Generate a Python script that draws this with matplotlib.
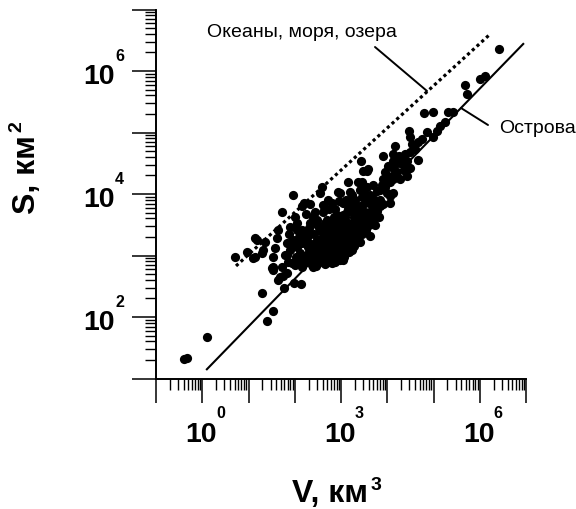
import numpy as np
import matplotlib
matplotlib.use('Agg')
import matplotlib.pyplot as plt
from matplotlib.ticker import LogLocator, NullFormatter

plt.rcParams['font.family'] = ['Liberation Sans', 'DejaVu Sans']

# ---------------- data (log10 values) ----------------
log_v = [-0.40, -0.34, 0.10, 1.29, 1.53, 1.40, 1.53, 1.64, 1.75, 1.83,
         1.77, 1.98, 2.14, 0.71, 0.97, 1.14, 1.18, 1.36, 1.31, 1.51,
         1.68, 1.64, 1.72, 1.90, 1.96, 1.57, 1.83, 2.05, 1.83, 1.72,
         2.05, 2.16, 2.33, 2.55, 1.14, 1.10, 1.29, 1.53, 1.53, 1.62,
         2.05, 1.90, 2.11, 2.37, 2.61, 2.72, 2.91, 2.37, 2.26, 2.05,
         2.33, 2.55, 2.83, 3.13, 3.35, 3.04, 2.48, 2.70, 2.26, 2.59,
         3.15, 3.45, 3.56, 2.98, 3.24, 3.41, 2.20, 2.44, 2.81, 2.91,
         2.70, 2.44, 2.16, 3.15, 3.41, 3.56, 3.26, 3.04, 2.81, 2.55,
         2.29, 1.96, 1.79, 2.33, 2.70, 2.98, 3.24, 3.41, 3.63, 3.74,
         3.67, 2.05, 2.39, 2.55, 2.91, 2.59, 2.29,
         6.42, 6.11, 6.01, 5.68, 5.72, 4.79, 4.99, 5.31, 5.42, 5.25,
         5.14, 5.08, 4.86, 4.99, 4.75, 4.66, 4.47, 4.49, 4.54, 4.17,
         4.60, 4.49, 4.38, 4.32, 3.91, 4.12, 4.12, 4.32, 4.43, 4.38,
         4.49, 4.66, 4.12, 4.21, 4.10, 4.43, 3.43, 3.48, 3.58, 4.12,
         4.06, 4.28, 4.43, 3.37, 2.94, 3.19, 3.56, 3.63, 3.84, 3.91,
         3.99, 3.99, 4.12, 3.84, 3.04, 3.30, 3.52, 3.69, 3.91, 2.87,
         3.13, 3.41, 3.58, 2.91, 3.15, 3.41, 2.83, 3.09, 3.35, 2.98,
         3.26, 2.87, 3.09, 2.83, 2.72, 2.48, 2.65, 3.95, 4.06, 3.74,
         3.67, 3.84, 3.52, 3.37, 3.19, 3.04, 3.26, 3.19, 3.58, 4.06,
         2.00, 2.20, 2.50, 2.80, 3.00,
         1.85, 1.95, 2.02, 2.12, 2.18, 2.25, 2.30, 2.42, 2.47, 2.52,
         2.58, 2.63, 2.68, 2.75, 2.78, 2.85, 2.93, 2.97, 3.02, 3.07,
         3.12, 3.17, 3.20, 3.28, 3.32, 3.38, 3.45, 3.50, 3.55, 3.48,
         3.62, 3.70, 3.78, 3.82, 2.15, 2.22, 2.35, 2.42, 2.50, 2.62,
         2.66, 2.75, 2.79, 2.88, 2.95, 3.00, 3.07, 3.10, 3.22, 3.28,
         3.33, 3.45, 3.50, 3.22, 3.10, 2.95, 2.85, 2.60, 2.40, 2.30,
         2.10, 1.95, 1.88, 2.00, 2.25, 2.62, 2.75, 3.70, 3.78, 3.88,
         3.95, 4.02, 4.20, 4.25, 2.15, 2.45, 2.65, 2.88, 3.05,
         2.28, 2.40, 2.55, 2.68, 2.82, 2.95, 3.05, 3.15, 2.50, 2.72,
         2.90, 3.08, 3.30, 3.42, 3.60, 3.25]
log_s = [1.31, 1.33, 1.67, 2.39, 2.10, 1.93, 2.77, 2.60, 2.67, 2.72,
         2.47, 2.55, 2.54, 2.98, 3.06, 2.98, 3.26, 3.22, 3.09, 2.80,
         2.65, 3.42, 3.71, 3.47, 3.98, 3.13, 3.21, 3.14, 3.01, 2.81,
         3.53, 3.80, 3.83, 4.02, 3.29, 2.96, 3.04, 2.98, 2.82, 3.29,
         3.17, 3.09, 3.04, 2.96, 2.93, 2.90, 2.98, 2.85, 3.37, 3.42,
         3.53, 3.42, 3.37, 3.37, 3.26, 3.21, 3.26, 3.21, 3.21, 4.11,
         4.19, 4.19, 4.37, 4.02, 3.99, 4.07, 3.86, 3.71, 3.86, 3.66,
         3.58, 3.53, 3.42, 3.75, 3.80, 3.91, 3.53, 3.31, 3.14, 3.09,
         3.14, 3.26, 3.01, 2.93, 2.96, 3.01, 3.09, 3.22, 3.31, 3.50,
         3.66, 2.93, 2.81, 3.26, 3.39, 3.39, 3.31,
         6.35, 5.92, 5.87, 5.77, 5.63, 5.32, 5.33, 5.33, 5.33, 5.17,
         5.10, 5.02, 5.01, 4.92, 4.89, 4.84, 5.02, 4.92, 4.81, 4.78,
         4.73, 4.69, 4.65, 4.60, 4.61, 4.65, 4.53, 4.48, 4.53, 4.37,
         4.43, 4.56, 4.43, 4.35, 4.29, 4.29, 4.53, 4.37, 4.40, 4.24,
         4.19, 4.24, 4.40, 4.19, 4.04, 4.04, 4.12, 3.99, 4.07, 4.24,
         4.27, 4.02, 4.02, 3.91, 3.86, 3.91, 3.86, 3.80, 3.83, 3.75,
         3.70, 3.70, 3.63, 3.55, 3.53, 3.58, 3.42, 3.37, 3.37, 3.22,
         3.21, 3.09, 3.04, 2.98, 3.91, 3.58, 3.53, 4.12, 3.96, 3.91,
         3.80, 3.80, 3.71, 3.63, 3.75, 3.66, 3.91, 3.37, 3.58, 3.86,
         2.85, 2.88, 2.88, 2.88, 2.95,
         2.90, 2.88, 2.97, 2.90, 3.00, 2.92, 3.05, 2.90, 3.02, 2.95,
         3.05, 2.99, 3.08, 3.02, 2.93, 3.05, 3.10, 2.92, 3.12, 2.98,
         3.15, 3.05, 3.25, 3.15, 3.32, 3.45, 3.35, 3.50, 3.42, 3.62,
         3.70, 3.58, 3.72, 3.62, 3.20, 3.28, 3.18, 3.35, 3.15, 3.30,
         3.45, 3.28, 3.50, 3.30, 3.48, 3.60, 3.50, 3.20, 3.45, 3.62,
         3.78, 3.95, 4.02, 3.82, 3.90, 3.88, 3.62, 3.70, 3.62, 3.45,
         3.30, 3.15, 3.35, 3.62, 3.68, 3.82, 3.75, 4.15, 4.05, 4.15,
         4.35, 4.45, 4.50, 4.62, 2.82, 2.83, 2.86, 2.90, 2.93,
         3.00, 3.08, 3.20, 3.12, 3.18, 3.30, 3.25, 3.42, 3.48, 3.40,
         3.55, 3.62, 3.55, 3.62, 3.50, 3.70]

# fitted lines (log10 end points)
islands_logv = [0.10, 6.94]
islands_logs = [1.15, 6.44]
oceans_logv = [0.73, 6.24]
oceans_logs = [2.83, 6.61]

x_label_decades = [0, 3, 6]
y_label_decades = [2, 4, 6]
oceans_label = "Океаны, моря, озера"
islands_label = "Острова"

# ---------------- figure ----------------
W, H = 576, 510
fig = plt.figure(figsize=(W / 100, H / 100), dpi=100)


def fx(px):
    return px / W


def fy(py):
    return 1 - py / H


ax = fig.add_axes([fx(156), fy(379.5), (526 - 156) / W, (379.5 - 10.5) / H])
ax.set_xscale('log')
ax.set_yscale('log')
ax.set_xlim(1e-1, 1e7)
ax.set_ylim(1e1, 1e7)

for axis in (ax.xaxis, ax.yaxis):
    axis.set_major_locator(LogLocator(base=10, numticks=30))
    axis.set_minor_locator(LogLocator(base=10, subs=np.arange(2, 10), numticks=30))
    axis.set_minor_formatter(NullFormatter())

ax.tick_params(which='major', direction='out', length=17.5, width=1.1,
               labelbottom=False, labelleft=False, color='black')
ax.tick_params(which='minor', direction='out', length=8, width=1.0, color='black')
for s in ['top', 'right']:
    ax.spines[s].set_visible(False)
for s in ['left', 'bottom']:
    ax.spines[s].set_linewidth(1.4)

# points
ax.scatter(np.power(10.0, log_v), np.power(10.0, log_s), s=44, c='black',
           linewidths=0, zorder=3, clip_on=False)

# lines
ax.plot(np.power(10.0, islands_logv), np.power(10.0, islands_logs), color='black',
        lw=1.5, zorder=4)
ax.plot(np.power(10.0, oceans_logv), np.power(10.0, oceans_logs), color='black',
        lw=2.3, linestyle=(0, (1, 1.0)), zorder=4)

# tick labels (10 with raised exponent)
for d in x_label_decades:
    ax.annotate("10", xy=(10.0 ** d, 0), xycoords=('data', 'axes fraction'),
                xytext=(-1, -63), textcoords='offset pixels', ha='center',
                va='baseline', fontsize=20.5, fontweight='bold')
    ax.annotate(str(d), xy=(10.0 ** d, 0), xycoords=('data', 'axes fraction'),
                xytext=(14, -39), textcoords='offset pixels', ha='left',
                va='baseline', fontsize=11.5, fontweight='bold')
for d in y_label_decades:
    ax.annotate("10", xy=(0, 10.0 ** d), xycoords=('axes fraction', 'data'),
                xytext=(-41, -12), textcoords='offset pixels', ha='right',
                va='baseline', fontsize=20.5, fontweight='bold')
    ax.annotate(str(d), xy=(0, 10.0 ** d), xycoords=('axes fraction', 'data'),
                xytext=(-41, 11), textcoords='offset pixels', ha='left',
                va='baseline', fontsize=11.5, fontweight='bold')

# annotations
fig.text(fx(207), fy(37), oceans_label, fontsize=14, ha='left', va='baseline')
fig.text(fx(499), fy(133), islands_label, fontsize=14, ha='left', va='baseline')
ax.annotate('', xy=(fx(427), fy(92)), xycoords='figure fraction',
            xytext=(fx(375), fy(48)), textcoords='figure fraction',
            arrowprops=dict(arrowstyle='-', lw=1.4, color='black',
                            shrinkA=0, shrinkB=0))
ax.annotate('', xy=(fx(461), fy(109)), xycoords='figure fraction',
            xytext=(fx(488), fy(126)), textcoords='figure fraction',
            arrowprops=dict(arrowstyle='-', lw=1.4, color='black',
                            shrinkA=0, shrinkB=0))

# axis titles
xl = fig.text(fx(292), fy(502), "V, км", fontsize=23, fontweight='bold',
              ha='left', va='baseline')
yl = fig.text(fx(35), fy(214), "S, км", fontsize=23, fontweight='bold',
              ha='left', va='baseline', rotation=90, rotation_mode='anchor')
fig.canvas.draw()
r = fig.canvas.get_renderer()
bx = xl.get_window_extent(r)
by = yl.get_window_extent(r)
fig.text((bx.x1 + 3) / W, fy(490), "3", fontsize=14, fontweight='bold',
         ha='left', va='baseline')
fig.text(fx(21), (by.y1 + 3) / H, "2", fontsize=14, fontweight='bold',
         ha='left', va='baseline', rotation=90, rotation_mode='anchor')

fig.savefig('out.png', dpi=100, facecolor='white')
